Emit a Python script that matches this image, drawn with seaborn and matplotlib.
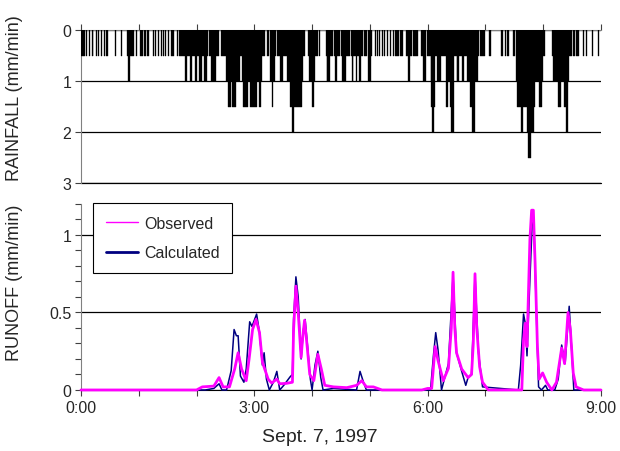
import numpy as np
import pandas as pd
import matplotlib
matplotlib.use("Agg")
import matplotlib.pyplot as plt
import seaborn as sns
from matplotlib.lines import Line2D
from matplotlib.ticker import MultipleLocator, FuncFormatter

rain_05 = [(0, 4), (5, 6), (8, 9), (11, 13), (16, 17), (18, 19), (21, 22), (24, 25), (26, 28),
           (35, 36), (42, 43), (48, 55), (57, 58), (61, 64), (65, 68), (69, 71), (75, 76),
           (77, 78), (80, 81), (83, 84), (85, 86), (87, 88), (90, 91), (94, 97), (100, 101),
           (102, 143), (145, 163), (164, 191), (193, 195), (197, 233), (236, 248), (254, 258),
           (259, 274), (275, 279), (280, 290), (291, 302), (305, 306), (307, 308), (310, 311),
           (313, 314), (315, 316), (318, 319), (321, 322), (324, 325), (326, 330), (331, 334),
           (338, 344), (345, 350), (353, 358), (359, 410), (411, 413), (414, 420), (424, 426),
           (436, 438), (440, 441), (442, 444), (449, 451), (452, 482), (489, 517), (521, 522),
           (524, 525), (531, 532), (537, 538)]
rain_10 = [(49, 51), (108, 110), (113, 115), (118, 120), (123, 126), (128, 131), (135, 140),
           (151, 165), (167, 188), (196, 201), (207, 210), (214, 231), (237, 243), (255, 259),
           (264, 266), (271, 275), (281, 283), (286, 287), (289, 291), (298, 301), (340, 342),
           (355, 358), (363, 368), (370, 374), (379, 387), (390, 393), (396, 398), (401, 412),
           (452, 480), (490, 507)]
rain_15 = [(153, 156), (157, 161), (168, 173), (176, 183), (185, 187), (198, 199), (217, 230),
           (240, 242), (364, 368), (379, 381), (383, 387), (404, 409), (453, 471), (476, 479),
           (495, 498), (502, 506)]
rain_20 = [(219, 221), (365, 367), (384, 387), (406, 409), (457, 459), (463, 470), (504, 506)]
rain_25 = [(464, 467)]
# single dry minutes inside the dense stretches
rain_gaps = [132, 144, 192, 203, 234, 246, 253, 262, 269, 279, 293, 297, 304, 344, 352, 358,
             510, 513]

# --- runoff hydrographs (hours after 0:00, mm/min) ---
obs_h = [0.0, 2.00, 2.10, 2.30, 2.39, 2.46, 2.57, 2.66, 2.72, 2.78, 2.86, 2.91, 2.97, 3.03,
         3.09, 3.14, 3.18, 3.24, 3.30, 3.39, 3.44, 3.56, 3.66, 3.68, 3.72, 3.76, 3.81, 3.84,
         3.87, 3.91, 3.96, 4.03, 4.10, 4.16, 4.22, 4.37, 4.60, 4.77, 4.86, 4.94, 5.06, 5.21,
         5.90, 6.00, 6.07, 6.13, 6.18, 6.27, 6.36, 6.41, 6.44, 6.47, 6.50, 6.59, 6.70, 6.76,
         6.79, 6.82, 6.85, 6.90, 6.95, 7.05, 7.63, 7.66, 7.69, 7.72, 7.77, 7.80, 7.83, 7.86,
         7.90, 7.93, 7.99, 8.06, 8.15, 8.23, 8.32, 8.37, 8.43, 8.47, 8.52, 8.57, 8.70, 9.00]
obs_v = [0.0, 0.0, 0.02, 0.025, 0.08, 0.02, 0.02, 0.135, 0.24, 0.135, 0.06, 0.20, 0.39, 0.455,
         0.37, 0.18, 0.135, 0.07, 0.045, 0.07, 0.04, 0.043, 0.05, 0.39, 0.67, 0.50, 0.21, 0.35,
         0.45, 0.30, 0.10, 0.06, 0.23, 0.135, 0.03, 0.02, 0.015, 0.03, 0.06, 0.02, 0.02, 0.0,
         0.0, 0.01, 0.01, 0.28, 0.19, 0.06, 0.14, 0.40, 0.76, 0.40, 0.24, 0.135, 0.08, 0.10,
         0.30, 0.75, 0.40, 0.15, 0.05, 0.0, 0.0, 0.32, 0.43, 0.28, 0.97, 1.16, 1.16, 0.82,
         0.28, 0.07, 0.11, 0.05, 0.0, 0.05, 0.27, 0.17, 0.50, 0.39, 0.11, 0.02, 0.0, 0.0]

calc_h = [0.0, 2.15, 2.30, 2.39, 2.44, 2.52, 2.60, 2.65, 2.69, 2.72, 2.76, 2.82, 2.86, 2.92,
          2.96, 3.04, 3.09, 3.14, 3.17, 3.21, 3.26, 3.33, 3.39, 3.44, 3.51, 3.62, 3.66, 3.68,
          3.72, 3.76, 3.81, 3.85, 3.88, 3.92, 3.97, 4.00, 4.05, 4.10, 4.15, 4.19, 4.37, 4.77,
          4.83, 4.89, 4.94, 6.05, 6.10, 6.14, 6.18, 6.24, 6.36, 6.44, 6.50, 6.59, 6.66, 6.70,
          6.76, 6.82, 6.88, 6.95, 7.57, 7.61, 7.66, 7.69, 7.72, 7.77, 7.81, 7.84, 7.89, 7.92,
          7.97, 8.04, 8.08, 8.20, 8.26, 8.32, 8.38, 8.45, 8.49, 8.53, 9.00]
calc_v = [0.0, 0.0, 0.01, 0.04, 0.0, 0.0, 0.125, 0.39, 0.35, 0.35, 0.09, 0.05, 0.135, 0.44,
          0.41, 0.49, 0.37, 0.16, 0.24, 0.07, 0.0, 0.05, 0.12, 0.0, 0.03, 0.085, 0.10, 0.455,
          0.73, 0.60, 0.20, 0.39, 0.455, 0.29, 0.07, 0.0, 0.16, 0.25, 0.08, 0.0, 0.01, 0.0,
          0.12, 0.05, 0.0, 0.0, 0.22, 0.37, 0.26, 0.0, 0.17, 0.74, 0.24, 0.12, 0.03, 0.08,
          0.10, 0.74, 0.24, 0.02, 0.0, 0.16, 0.49, 0.43, 0.22, 0.71, 1.08, 1.06, 0.39, 0.02,
          0.0, 0.03, 0.0, 0.0, 0.07, 0.29, 0.17, 0.54, 0.28, 0.0, 0.0]

hour_ticks = list(range(0, 10))
hour_labels = {0: "0:00", 3: "3:00", 6: "6:00", 9: "9:00"}

# --- build per-minute rainfall ---
rain = np.zeros(540)
for level, runs in [(0.5, rain_05), (1.0, rain_10), (1.5, rain_15), (2.0, rain_20), (2.5, rain_25)]:
    for s, e in runs:
        rain[s:e] = np.maximum(rain[s:e], level)
rain[rain_gaps] = 0
minutes = np.arange(540)
wet = rain > 0

obs = pd.DataFrame({"hour": obs_h, "runoff": obs_v})
calc = pd.DataFrame({"hour": calc_h, "runoff": calc_v})

sns.set_style("ticks")
plt.rcParams["font.family"] = ["Liberation Sans", "DejaVu Sans"]

fig = plt.figure(figsize=(6.2, 4.52), dpi=100)
ax_r = fig.add_axes([0.1306, 0.5929, 0.8387, 0.3385])
ax_q = fig.add_axes([0.1306, 0.1350, 0.8387, 0.4115])

spine_grey = "#808080"
tick_size = 11.5

# --- rainfall panel ---
ax_r.bar(minutes[wet] / 60, rain[wet], width=1 / 60, align="edge",
         color="black", edgecolor="black", linewidth=0.25, zorder=3)
ax_r.set_xlim(0, 9)
ax_r.set_ylim(3, 0)
ax_r.set_yticks([0, 1, 2, 3])
ax_r.yaxis.grid(True, color="black", linewidth=0.9)
ax_r.axhline(3, color="black", linewidth=0.9, clip_on=False)
ax_r.set_axisbelow(True)
ax_r.xaxis.tick_top()
ax_r.set_xticks(hour_ticks)
ax_r.set_xticklabels([])
for side in ["right", "bottom"]:
    ax_r.spines[side].set_visible(False)
ax_r.spines["left"].set_color(spine_grey)
ax_r.spines["top"].set_color(spine_grey)
ax_r.tick_params(axis="both", direction="out", length=4, width=0.8, color="#404040",
                 labelsize=tick_size, pad=3)
ax_r.set_ylabel("RAINFALL (mm/min)", fontsize=13)
ax_r.yaxis.set_label_coords(-0.112, 0.56)

# --- runoff panel ---
sns.lineplot(data=calc, x="hour", y="runoff", ax=ax_q, color="#000080", linewidth=1.1,
             sort=False, estimator=None, clip_on=False, zorder=4)
sns.lineplot(data=obs, x="hour", y="runoff", ax=ax_q, color="#FF00FF", linewidth=2.0,
             sort=False, estimator=None, clip_on=False, zorder=5)
ax_q.set_xlim(0, 9)
ax_q.set_ylim(0, 1.2)
ax_q.set_yticks([0, 0.5, 1])
ax_q.set_yticklabels(["0", "0.5", "1"])
ax_q.yaxis.set_minor_locator(MultipleLocator(0.1))
ax_q.yaxis.grid(True, which="major", color="black", linewidth=0.9)
ax_q.set_axisbelow(True)
ax_q.set_xticks(hour_ticks)
ax_q.xaxis.set_major_formatter(FuncFormatter(lambda v, p: hour_labels.get(int(round(v)), "")))
for side in ["right", "top"]:
    ax_q.spines[side].set_visible(False)
ax_q.spines["left"].set_color(spine_grey)
ax_q.spines["bottom"].set_color("black")
ax_q.tick_params(axis="both", which="both", direction="out", length=4, width=0.8,
                 color="#404040", labelsize=tick_size, pad=3)
ax_q.set_ylabel("RUNOFF (mm/min)", fontsize=13)
ax_q.yaxis.set_label_coords(-0.112, 0.58)
ax_q.set_xlabel("Sept. 7, 1997", fontsize=14)
ax_q.xaxis.set_label_coords(0.46, -0.205)

handles = [Line2D([], [], color="#FF00FF", linewidth=1.0),
           Line2D([], [], color="#000080", linewidth=2.0)]
leg = ax_q.legend(handles, ["Observed", "Calculated"], loc="upper left",
                  bbox_to_anchor=(0.023, 1.005), frameon=True, fancybox=False,
                  edgecolor="black", framealpha=1, fontsize=11.5, handlelength=2.0,
                  handletextpad=0.4, borderpad=0.8, labelspacing=0.9, borderaxespad=0)
leg.get_frame().set_linewidth(0.8)
leg.set_zorder(10)

fig.savefig("out.png", dpi=100)
